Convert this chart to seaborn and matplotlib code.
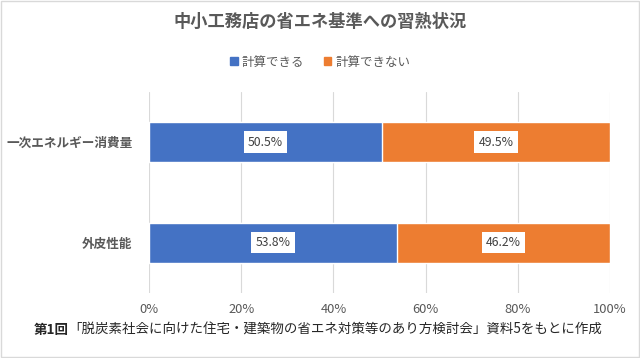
import matplotlib
matplotlib.use("Agg")
import matplotlib.pyplot as plt
import matplotlib.patches as mpatches
import pandas as pd
import seaborn as sns

categories = ["一次エネルギー消費量", "外皮性能"]
can_calc = [50.5, 53.8]
cannot_calc = [49.5, 46.2]
series_names = ["計算できる", "計算できない"]
x_ticks = [0, 20, 40, 60, 80, 100]
title = "中小工務店の省エネ基準への習熟状況"
source_bold = "第1回"
source_rest = "「脱炭素社会に向けた住宅・建築物の省エネ対策等のあり方検討会」資料5をもとに作成"

blue = "#4472C4"
orange = "#ED7D31"
gray = "#595959"

sns.set_theme(style="white")
plt.rcParams["font.family"] = ["Noto Sans CJK JP", "DejaVu Sans"]

df = pd.DataFrame({"cat": categories, "a": can_calc, "b": cannot_calc})
df["total"] = df["a"] + df["b"]

fig = plt.figure(figsize=(6.4, 3.58), dpi=100)
ax = fig.add_axes([0.233, 0.182, 0.72, 0.561])

# orange drawn full length first, blue over it
sns.barplot(data=df, y="cat", x="total", color=orange, width=0.4,
            saturation=1, ax=ax, orient="h")
sns.barplot(data=df, y="cat", x="a", color=blue, width=0.4,
            saturation=1, ax=ax, orient="h")

for i, row in df.iterrows():
    ax.text(row["a"] / 2, i, f"{row['a']:.1f}%", ha="center", va="center",
            fontsize=8.8, color="#404040",
            bbox=dict(boxstyle="square,pad=0.35", fc="white", ec="none"))
    ax.text(row["a"] + row["b"] / 2, i, f"{row['b']:.1f}%", ha="center",
            va="center", fontsize=8.8, color="#404040",
            bbox=dict(boxstyle="square,pad=0.35", fc="white", ec="none"))

ax.set_xlim(0, 100)
ax.set_ylim(1.5, -0.5)
ax.set_xticks(x_ticks)
ax.set_xticklabels([f"{t}%" for t in x_ticks], color=gray, fontsize=9.3)
ax.set_yticklabels(categories, color=gray, fontsize=9.1, fontweight="bold")
ax.set_xlabel("")
ax.set_ylabel("")
ax.tick_params(axis="x", length=0, pad=7)
ax.tick_params(axis="y", length=0, pad=12)
ax.xaxis.grid(True, color="#D9D9D9", linewidth=0.8)
ax.set_axisbelow(True)
for s in ax.spines.values():
    s.set_visible(False)

fig.text(0.5, 0.938, title, ha="center", va="center", fontsize=12.4,
         fontweight="bold", color=gray)

handles = [mpatches.Patch(color=blue, label=series_names[0]),
           mpatches.Patch(color=orange, label=series_names[1])]
fig.legend(handles=handles, loc="center", bbox_to_anchor=(0.5, 0.826), ncol=2,
           frameon=False, fontsize=9, handlelength=0.6, handleheight=0.6,
           handletextpad=0.3, columnspacing=1.6, labelcolor=gray)

fig.canvas.draw()
t1 = fig.text(0.052, 0.078, source_bold, ha="left", va="center", fontsize=9.7,
              fontweight="bold", color="#262626")
fig.canvas.draw()
bb = t1.get_window_extent().transformed(fig.transFigure.inverted())
fig.text(bb.x1, 0.078, source_rest, ha="left", va="center", fontsize=9.7,
         color="#262626")

fig.patches.append(mpatches.Rectangle((0.001, 0.002), 0.997, 0.995,
                                      transform=fig.transFigure, fill=False,
                                      ec="#D9D9D9", lw=1))

fig.savefig("out.png", dpi=100)
